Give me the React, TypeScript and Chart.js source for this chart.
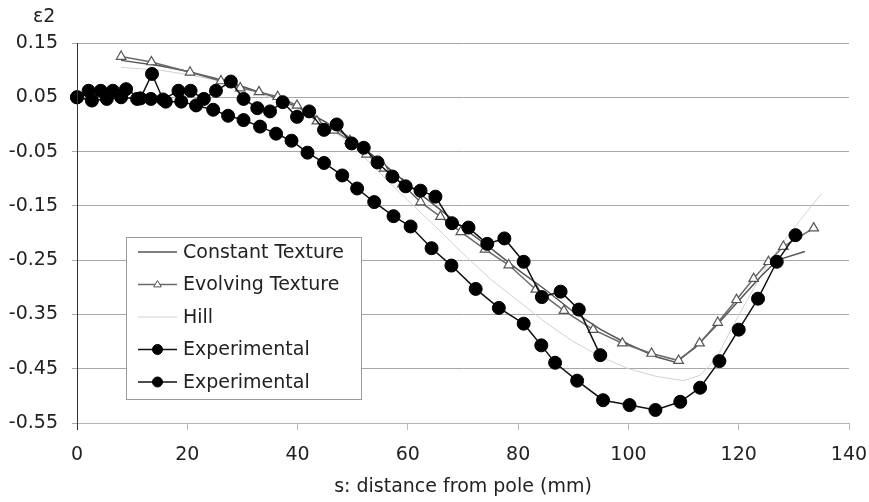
import React, { useEffect, useRef } from 'react';
import { Chart, registerables } from 'chart.js';

Chart.register(...registerables);

// ---- Data ----
const constantX = [8, 15, 20, 25, 30, 35, 40, 45, 50, 55, 60, 65, 70, 75, 80, 85, 90, 95, 100, 105, 108.5, 112, 116, 120, 124, 127, 132];
const constantY = [0.118, 0.108, 0.098, 0.085, 0.07, 0.053, 0.032, 0.005, -0.028, -0.068, -0.11, -0.15, -0.19, -0.228, -0.268, -0.305, -0.345, -0.378, -0.405, -0.428, -0.438, -0.412, -0.37, -0.325, -0.28, -0.25, -0.234];

const evolvingX = [8, 13.5, 20.5, 26.1, 29.6, 33, 36.4, 39.9, 43.5, 46.6, 49.5, 52.5, 55.7, 59, 62.3, 65.9, 69.6, 74, 78.3, 83.2, 88.3, 93.6, 98.9, 104.2, 109.1, 112.9, 116.2, 119.6, 122.7, 125.4, 128.1, 133.6];
const evolvingY = [0.125, 0.115, 0.096, 0.08, 0.067, 0.06, 0.051, 0.035, 0.006, -0.011, -0.03, -0.055, -0.081, -0.11, -0.143, -0.17, -0.198, -0.23, -0.259, -0.304, -0.343, -0.378, -0.403, -0.422, -0.435, -0.403, -0.365, -0.323, -0.284, -0.253, -0.225, -0.191];

const hillX = [8, 15, 20, 25, 30, 35, 40, 45, 50, 55, 60, 65, 70, 75, 80, 85, 90, 95, 100, 105, 110, 113, 116, 119, 122, 125, 128, 131, 135];
const hillY = [0.105, 0.1, 0.092, 0.082, 0.068, 0.05, 0.028, 0.0, -0.04, -0.09, -0.14, -0.188, -0.238, -0.285, -0.325, -0.365, -0.4, -0.428, -0.45, -0.464, -0.472, -0.462, -0.43, -0.37, -0.315, -0.262, -0.218, -0.178, -0.128];

const exp1X = [0, 2.1, 4.3, 6.5, 8.9, 11.5, 13.6, 15.6, 18.4, 20.6, 23, 25.2, 27.9, 30.2, 32.7, 35, 37.3, 39.9, 42.1, 44.8, 47.1, 49.8, 52, 54.5, 57.2, 59.6, 62.3, 65, 68, 71, 74.4, 77.5, 81, 84.3, 87.7, 91, 94.9];
const exp1Y = [0.05, 0.062, 0.062, 0.062, 0.065, 0.048, 0.093, 0.046, 0.062, 0.062, 0.047, 0.062, 0.079, 0.047, 0.03, 0.024, 0.041, 0.014, 0.024, -0.01, 0.0, -0.035, -0.043, -0.07, -0.096, -0.114, -0.122, -0.133, -0.182, -0.19, -0.22, -0.21, -0.253, -0.318, -0.308, -0.341, -0.425];

const exp2X = [0, 2.7, 5.4, 8, 10.9, 13.4, 16.1, 18.9, 21.6, 24.7, 27.4, 30.2, 33.2, 36.1, 38.9, 41.8, 44.8, 48.1, 50.8, 53.9, 57.4, 60.5, 64.3, 67.9, 72.3, 76.5, 81, 84.2, 86.7, 90.7, 95.4, 100.2, 104.9, 109.4, 113, 116.5, 120, 123.5, 126.9, 130.3];
const exp2Y = [0.05, 0.044, 0.047, 0.05, 0.047, 0.047, 0.042, 0.042, 0.035, 0.027, 0.016, 0.008, -0.004, -0.017, -0.03, -0.052, -0.071, -0.094, -0.118, -0.143, -0.169, -0.188, -0.228, -0.26, -0.303, -0.338, -0.367, -0.407, -0.439, -0.472, -0.508, -0.517, -0.526, -0.511, -0.485, -0.436, -0.378, -0.321, -0.253, -0.204];

const seriesNames = ['Constant Texture', 'Evolving Texture', 'Hill', 'Experimental', 'Experimental'];
const xTicks = [0, 20, 40, 60, 80, 100, 120, 140];
const yTicks = [-0.55, -0.45, -0.35, -0.25, -0.15, -0.05, 0.05, 0.15];
const xTitle = 's: distance from pole (mm)';
const yTitle = 'ε2';

const FONT = '"DejaVu Sans", "Liberation Sans", sans-serif';
const TEXT = '#222';

function pts(xs: number[], ys: number[]) {
  return xs.map((x, i) => ({ x, y: ys[i] }));
}

function drawMarker(ctx: CanvasRenderingContext2D, style: string, x: number, y: number, r: number, fill: string, stroke: string, lw: number) {
  ctx.save();
  ctx.beginPath();
  if (style === 'triangle') {
    ctx.moveTo(x, y - r);
    ctx.lineTo(x + r * 0.95, y + r * 0.6);
    ctx.lineTo(x - r * 0.95, y + r * 0.6);
    ctx.closePath();
  } else {
    ctx.arc(x, y, r, 0, Math.PI * 2);
  }
  ctx.fillStyle = fill;
  ctx.fill();
  ctx.lineWidth = lw;
  ctx.strokeStyle = stroke;
  ctx.stroke();
  ctx.restore();
}

const overlayPlugin = {
  id: 'overlay',
  afterDraw(chart: any) {
    const ctx: CanvasRenderingContext2D = chart.ctx;
    ctx.save();
    // y axis title at top-left
    ctx.font = `19px ${FONT}`;
    ctx.fillStyle = TEXT;
    ctx.textBaseline = 'middle';
    ctx.textAlign = 'left';
    ctx.fillText(yTitle, 33, 17);

    // legend box inside plot
    const bx = 126, by = 237, bw = 235, bh = 162;
    ctx.fillStyle = '#fff';
    ctx.fillRect(bx, by, bw, bh);
    ctx.strokeStyle = '#9a9a9a';
    ctx.lineWidth = 1;
    ctx.strokeRect(bx + 0.5, by + 0.5, bw, bh);

    const rowH = 32.5;
    chart.data.datasets.forEach((ds: any, i: number) => {
      const cy = by + 15 + i * rowH;
      ctx.beginPath();
      ctx.moveTo(138, cy);
      ctx.lineTo(177, cy);
      ctx.strokeStyle = ds.borderColor;
      ctx.lineWidth = ds.borderWidth;
      ctx.stroke();
      if (ds.pointRadius > 0) {
        const r = ds.pointStyle === 'triangle' ? 4 : 5;
        drawMarker(ctx, ds.pointStyle, 157.5, cy, r, ds.pointBackgroundColor, ds.pointBorderColor, 1);
      }
      ctx.font = `19px ${FONT}`;
      ctx.fillStyle = TEXT;
      ctx.textBaseline = 'middle';
      ctx.textAlign = 'left';
      ctx.fillText(ds.label, 183, cy + 1);
    });
    ctx.restore();
  },
};

export default function App() {
  const canvasRef = useRef<HTMLCanvasElement | null>(null);

  useEffect(() => {
    document.body.style.margin = '0';
    const canvas = canvasRef.current;
    if (!canvas) return;

    const chart = new Chart(canvas, {
      type: 'line',
      data: {
        datasets: [
          {
            label: seriesNames[0],
            data: pts(constantX, constantY),
            borderColor: '#555',
            borderWidth: 1.5,
            pointRadius: 0,
            order: 3,
          },
          {
            label: seriesNames[1],
            data: pts(evolvingX, evolvingY),
            borderColor: '#6a6a6a',
            borderWidth: 1.5,
            pointStyle: 'triangle',
            pointRadius: 5.5,
            pointBackgroundColor: '#fff',
            pointBorderColor: '#555',
            pointBorderWidth: 1.2,
            order: 2,
          },
          {
            label: seriesNames[2],
            data: pts(hillX, hillY),
            borderColor: '#d2d2d2',
            borderWidth: 1,
            pointRadius: 0,
            order: 4,
          },
          {
            label: seriesNames[3],
            data: pts(exp1X, exp1Y),
            borderColor: '#111',
            borderWidth: 1.5,
            pointStyle: 'circle',
            pointRadius: 6.5,
            pointBackgroundColor: '#000',
            pointBorderColor: '#000',
            pointBorderWidth: 1,
            order: 0,
          },
          {
            label: seriesNames[4],
            data: pts(exp2X, exp2Y),
            borderColor: '#111',
            borderWidth: 1.5,
            pointStyle: 'circle',
            pointRadius: 6.5,
            pointBackgroundColor: '#000',
            pointBorderColor: '#000',
            pointBorderWidth: 1,
            order: 1,
          },
        ] as any,
      },
      options: {
        animation: false,
        responsive: true,
        maintainAspectRatio: false,
        devicePixelRatio: 1,
        clip: false as any,
        elements: { line: { tension: 0 } },
        layout: { padding: { top: 43, right: 20, left: 0, bottom: 0 } },
        plugins: {
          legend: { display: false },
          tooltip: { enabled: false },
        },
        scales: {
          x: {
            type: 'linear',
            min: 0,
            max: 140,
            afterBuildTicks: (scale: any) => {
              scale.ticks = xTicks.map((v) => ({ value: v }));
            },
            afterFit: (scale: any) => {
              scale.height = 79;
              scale.paddingRight = 0;
              scale.paddingLeft = 0;
            },
            grid: {
              drawOnChartArea: false,
              drawTicks: true,
              tickLength: 7,
              color: (c: any) => (c.index === 0 ? '#333' : '#bbb'),
            },
            border: { display: true, color: '#b5b5b5', width: 1 },
            ticks: {
              color: TEXT,
              font: { family: FONT, size: 19 },
              padding: 14,
              maxRotation: 0,
            },
            title: {
              display: true,
              text: xTitle,
              color: TEXT,
              font: { family: FONT, size: 19 },
              padding: { top: 0, bottom: 4 },
            },
          },
          y: {
            type: 'linear',
            min: -0.55,
            max: 0.15,
            afterBuildTicks: (scale: any) => {
              scale.ticks = yTicks.map((v) => ({ value: v }));
            },
            afterFit: (scale: any) => {
              scale.width = 77;
            },
            grid: {
              color: '#a8a8a8',
              lineWidth: 1,
              tickLength: 5,
            },
            border: { display: true, color: '#333', width: 1, z: 1 },
            ticks: {
              color: TEXT,
              font: { family: FONT, size: 19 },
              padding: 14,
              callback: (v: any) => Number(v).toFixed(2),
            },
          },
        },
      },
      plugins: [overlayPlugin],
    });

    return () => chart.destroy();
  }, []);

  return (
    <div style={{ position: 'relative', width: 869, height: 502 }}>
      <canvas ref={canvasRef} />
    </div>
  );
}
